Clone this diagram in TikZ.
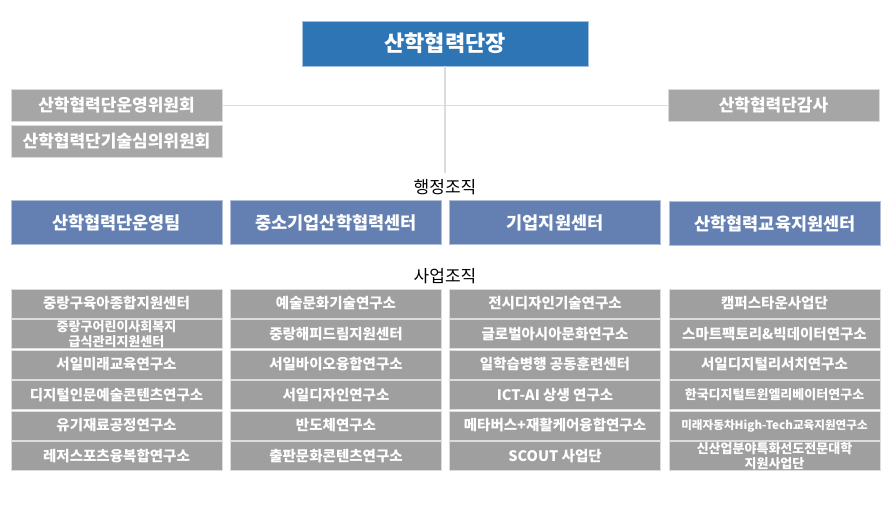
\documentclass[tikz,border=0pt]{standalone}
\usepackage{fontspec}
\setmainfont{Noto Sans CJK KR}
\definecolor{chiefblue}{HTML}{2E75B6}
\definecolor{admblue}{HTML}{6480B3}
\definecolor{boardgray}{HTML}{A6A6A6}
\definecolor{labgray}{HTML}{9F9F9F}
\definecolor{linkgray}{HTML}{DCDCDC}
\begin{document}
\begin{tikzpicture}[x=1pt, y=-1pt]
        \tikzstyle{every node}=[inner sep=0pt, text=white]
        \tikzstyle{chief}=[fill=chiefblue, draw=chiefblue!45!white, line width=0.8pt, minimum width=286pt, minimum height=45pt, font=\bfseries\fontsize{22}{25}\selectfont]
        \tikzstyle{board}=[fill=boardgray, draw=boardgray!40!white, line width=0.6pt, minimum width=211pt, minimum height=32pt, font=\bfseries\fontsize{17}{20}\selectfont]
        \tikzstyle{adm}=[fill=admblue, draw=admblue!50!white, line width=0.6pt, minimum width=211pt, minimum height=44pt, font=\bfseries\fontsize{17.5}{20}\selectfont]
        \tikzstyle{lab}=[fill=labgray, draw=labgray!35!white, line width=0.6pt, minimum width=211pt, minimum height=29pt, align=center, font=\bfseries\fontsize{14.5}{16}\selectfont]
        \tikzstyle{twoline}=[font=\bfseries\fontsize{13}{14.5}\selectfont]
        \tikzstyle{grouplabel}=[text=black, font=\fontsize{17}{20}\selectfont]
        \tikzstyle{link}=[draw=linkgray, line width=1.2pt]
        \useasboundingbox (0,0) rectangle (896,508);
        \node [chief] (chief) at (445,43.5) {산학협력단장};
        \node [board] (council) at (116.5,105.5) {산학협력단운영위원회};
        \node [board] (techcouncil) at (116.5,141) {산학협력단기술심의위원회};
        \node [board] (audit) at (773.5,105.5) {산학협력단감사};
        \coordinate (stem) at (445,173);
        \draw [link] (chief.south) -- (stem);
        \draw [link] (council.east) -- (audit.west);
        \node [grouplabel] (admlabel) at (445,187) {행정조직};
        \node [adm] (opsteam) at (116.5,222.5) {산학협력단운영팀};
        \node [adm] (smecenter) at (336,222.5) {중소기업산학협력센터};
        \node [adm] (firmcenter) at (555,222.5) {기업지원센터};
        \node [adm] (educenter) at (775,223.5) {산학협력교육지원센터};
        \node [grouplabel] (bizlabel) at (445,276) {사업조직};
        \node [lab] (lab-a1) at (116.5,303.5) {중랑구육아종합지원센터};
        \node [lab, twoline] (lab-a2) at (116.5,334) {중랑구어린이사회복지\\급식관리지원센터};
        \node [lab] (lab-a3) at (116.5,364.5) {서일미래교육연구소};
        \node [lab] (lab-a4) at (116.5,395) {디지털인문예술콘텐츠연구소};
        \node [lab] (lab-a5) at (116.5,425.5) {유기재료공정연구소};
        \node [lab] (lab-a6) at (116.5,456) {레저스포츠융복합연구소};
        \node [lab] (lab-b1) at (336,303.5) {예술문화기술연구소};
        \node [lab] (lab-b2) at (336,334) {중랑해피드림지원센터};
        \node [lab] (lab-b3) at (336,364.5) {서일바이오융합연구소};
        \node [lab] (lab-b4) at (336,395) {서일디자인연구소};
        \node [lab] (lab-b5) at (336,425.5) {반도체연구소};
        \node [lab] (lab-b6) at (336,456) {출판문화콘텐츠연구소};
        \node [lab] (lab-c1) at (555,303.5) {전시디자인기술연구소};
        \node [lab] (lab-c2) at (555,334) {글로벌아시아문화연구소};
        \node [lab] (lab-c3) at (555,364.5) {일학습병행 공동훈련센터};
        \node [lab] (lab-c4) at (555,395) {ICT-AI 상생 연구소};
        \node [lab] (lab-c5) at (555,425.5) {메타버스+재활케어융합연구소};
        \node [lab] (lab-c6) at (555,456) {SCOUT 사업단};
        \node [lab] (lab-d1) at (774.5,303.5) {캠퍼스타운사업단};
        \node [lab] (lab-d2) at (774.5,334) {스마트팩토리\&빅데이터연구소};
        \node [lab] (lab-d3) at (774.5,364.5) {서일디지털리서치연구소};
        \node [lab, font=\bfseries\fontsize{13}{15}\selectfont] (lab-d4) at (774.5,395) {한국디지털트윈엘리베이터연구소};
        \node [lab, font=\bfseries\fontsize{11.6}{14}\selectfont] (lab-d5) at (774.5,425.5) {미래자동차High-Tech교육지원연구소};
        \node [lab, twoline] (lab-d6) at (774.5,456) {신산업분야특화선도전문대학\\지원사업단};
    \end{tikzpicture}
\end{document}
